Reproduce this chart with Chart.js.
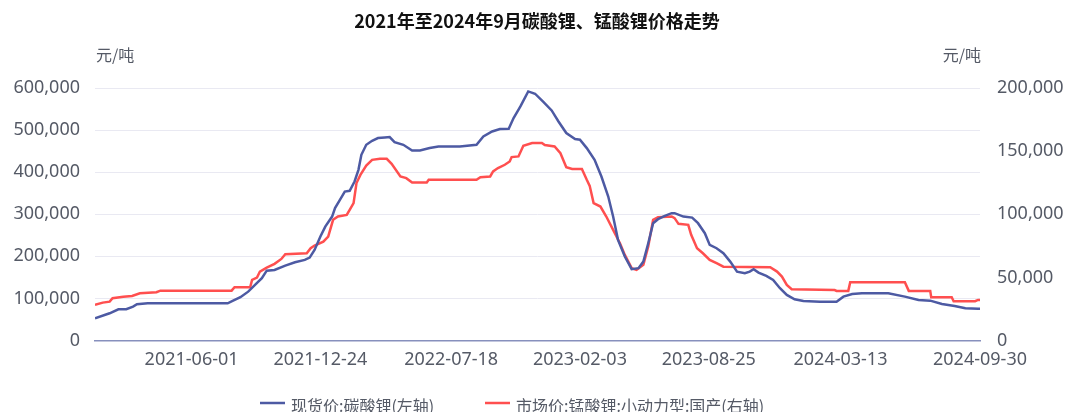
<!DOCTYPE html>
<html>
<head>
<meta charset="utf-8">
<script src="https://cdn.jsdelivr.net/npm/chart.js@4.4.1/dist/chart.umd.min.js"></script>
<style>
html,body{margin:0;padding:0;background:#fff;}
#wrap{position:relative;width:1065px;height:412px;}
</style>
</head>
<body>
<div id="wrap"><canvas id="c" width="1065" height="412"></canvas></div>
<script>
// x values are trading-day indices counted from the first trading day of 2021
const titleText = '2021年至2024年9月碳酸锂、锰酸锂价格走势';
const unitLabel = '元/吨';
const seriesNames = ['现货价:碳酸锂(左轴)', '市场价:锰酸锂:小动力型:国产(右轴)'];

const xTickDays   = [99, 231, 365, 497, 629, 764, 907];
const xTickLabels = ['2021-06-01','2021-12-24','2022-07-18','2023-02-03','2023-08-25','2024-03-13','2024-09-30'];

// 现货价:碳酸锂 (元/吨, left axis)
const lcDays = [0,15,24,32,39,43,54,136,141,149,157,164,171,176,184,195,205,215,220,225,231,236,243,246,251,256,261,266,270,273,278,284,290,297,302,307,316,325,333,343,352,374,391,398,407,415,424,429,436,444,451,459,468,475,483,492,497,504,512,519,526,531,536,543,550,557,562,567,572,577,584,591,594,603,612,618,625,630,637,644,651,658,666,671,675,680,688,695,702,709,717,726,743,760,767,776,786,813,830,844,856,868,881,892,905,907];
const lcPrice = [52800,64700,74200,74200,80400,86100,88500,88500,94000,102800,116100,132000,148000,166000,167700,178000,186000,191500,197000,215300,247000,270700,294500,314500,334200,354000,355700,377800,405600,441300,465100,474600,481000,482500,483400,471500,465100,451500,451500,457200,461000,461000,465100,484800,496700,502400,503200,528600,556200,591900,586400,568100,546700,520500,492900,478700,477000,457200,429400,389700,342100,294500,239100,199400,169400,171800,187500,231200,278800,288300,296200,302600,302600,294500,292100,278800,255000,227200,219300,207400,187500,163700,159900,163700,169400,161300,153400,143900,124200,108200,98000,94000,92300,92300,104200,110600,112300,112300,104200,96300,94700,86800,82100,76600,75600,75600];

// 市场价:锰酸锂:小动力型:国产 (元/吨, right axis)
const lmDays = [0,8,15,18,29,38,46,63,67,140,143,159,161,166,169,176,184,191,195,217,221,225,234,239,244,249,258,261,265,268,272,278,284,292,299,304,313,319,325,340,342,391,395,405,408,413,420,425,427,434,439,448,458,461,471,477,483,489,499,504,507,511,518,524,531,538,543,550,555,562,567,572,577,591,594,598,608,611,617,623,630,637,644,692,699,704,709,714,758,760,772,774,830,834,856,857,878,880,902,905,907];
const lmPrice = [28200,30000,30800,33500,34700,35300,37400,38200,39500,39500,42200,42200,48000,49800,54600,57700,60700,64600,68400,69100,73100,75200,78300,82300,95600,98200,99500,103500,108800,124700,131200,138600,143100,143900,143900,140000,129900,128600,125100,125100,127300,127300,129400,129900,133900,136600,139200,141800,145300,145800,154200,156400,156400,154800,153700,148400,137300,135800,135800,127300,122500,108800,106100,98200,87600,77100,67800,57300,55900,59900,74400,95600,97700,98200,96900,92400,91600,83700,73100,69100,63800,61200,58500,58000,54600,50600,44000,40600,40000,39300,39300,46200,46200,39300,39300,34300,34300,31100,31100,32100,32100];

const BLUE = '#4d5aa3';
const RED = '#ff4f4f';
const TEXT = '#555a66';
const FONT = "'Noto Sans', 'Noto Sans CJK SC', sans-serif";

const toPts = (xs, ys) => xs.map((x, i) => ({x: x, y: ys[i]}));
const fmt = v => Number(v).toLocaleString('en-US');

const PLOT_L = 95, PLOT_R = 980, PLOT_T = 88, PLOT_B = 340.5;

const decor = {
  id: 'decor',
  afterDraw(chart) {
    const ctx = chart.ctx;
    ctx.save();
    ctx.fillStyle = '#111';
    ctx.font = "bold 18px 'Noto Sans CJK SC', sans-serif";
    ctx.textAlign = 'center';
    ctx.textBaseline = 'middle';
    ctx.fillText(titleText, 537, 21);

    ctx.fillStyle = TEXT;
    ctx.font = "16px 'Noto Sans CJK SC', sans-serif";
    ctx.textAlign = 'left';
    ctx.fillText(unitLabel, 96, 55);
    ctx.textAlign = 'right';
    ctx.fillText(unitLabel, 981, 55);

    // legend
    const items = [
      {x: 260, color: BLUE, text: seriesNames[0]},
      {x: 485, color: RED, text: seriesNames[1]}
    ];
    ctx.textAlign = 'left';
    ctx.font = "16px 'Noto Sans CJK SC', sans-serif";
    items.forEach(it => {
      ctx.strokeStyle = it.color;
      ctx.lineWidth = 2.5;
      ctx.beginPath();
      ctx.moveTo(it.x, 403);
      ctx.lineTo(it.x + 25, 403);
      ctx.stroke();
      ctx.fillStyle = TEXT;
      ctx.fillText(it.text, it.x + 31, 406);
    });
    ctx.restore();
  }
};

new Chart(document.getElementById('c'), {
  type: 'line',
  data: {
    datasets: [
      {label: seriesNames[0], data: toPts(lcDays, lcPrice), yAxisID: 'yL', borderColor: BLUE, borderWidth: 2.5, pointRadius: 0, tension: 0, fill: false},
      {label: seriesNames[1], data: toPts(lmDays, lmPrice), yAxisID: 'yR', borderColor: RED, borderWidth: 2.5, pointRadius: 0, tension: 0, fill: false}
    ]
  },
  options: {
    responsive: false,
    animation: false,
    events: [],
    layout: {padding: {top: PLOT_T, left: 0, right: 0, bottom: 0}},
    plugins: {legend: {display: false}, title: {display: false}, tooltip: {enabled: false}},
    scales: {
      x: {
        type: 'linear', min: 0, max: 907,
        afterBuildTicks: s => { s.ticks = xTickDays.map(v => ({value: v})); },
        afterFit: s => { s.height = 412 - PLOT_B; },
        grid: {display: false, drawTicks: false},
        border: {display: true, color: '#8790bd', width: 1.5},
        ticks: {
          autoSkip: false, maxRotation: 0, padding: 9, color: TEXT,
          font: {family: FONT, size: 18},
          callback: (v) => { const i = xTickDays.indexOf(v); return i >= 0 ? xTickLabels[i] : ''; }
        }
      },
      yL: {
        position: 'left', min: 0, max: 600000,
        afterFit: s => { s.width = PLOT_L; },
        grid: {color: '#e9e9f2', lineWidth: 1, drawTicks: false},
        border: {display: false},
        ticks: {stepSize: 100000, padding: 15, color: TEXT, font: {family: FONT, size: 18}, callback: fmt}
      },
      yR: {
        position: 'right', min: 0, max: 200000,
        afterFit: s => { s.width = 1065 - PLOT_R; },
        grid: {display: false, drawTicks: false},
        border: {display: false},
        ticks: {stepSize: 50000, padding: 17, color: TEXT, font: {family: FONT, size: 18}, callback: fmt}
      }
    }
  },
  plugins: [decor]
});
</script>
</body>
</html>
